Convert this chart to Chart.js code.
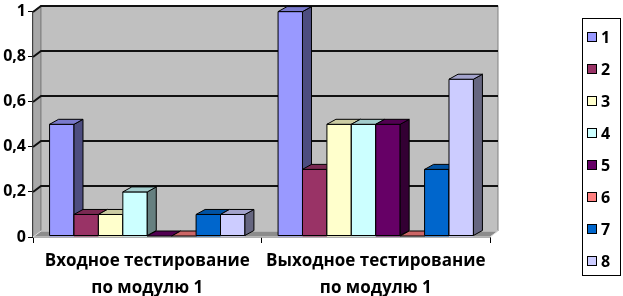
<!DOCTYPE html>
<html>
<head>
<meta charset="utf-8">
<script src="https://cdn.jsdelivr.net/npm/chart.js@4.4.0/dist/chart.umd.min.js"></script>
<style>
  html, body { margin: 0; padding: 0; background: #fff; }
  #wrap { width: 623px; height: 296px; position: relative; }
</style>
</head>
<body>
<div id="wrap"><canvas id="chart"></canvas></div>
<script>
// data
const categories = [
    ['Входное тестирование', 'по модулю 1'],
    ['Выходное тестирование', 'по модулю 1']
];
const seriesNames = ['1', '2', '3', '4', '5', '6', '7', '8'];
const series1 = [0.5, 1.0];
const series2 = [0.1, 0.3];
const series3 = [0.1, 0.5];
const series4 = [0.2, 0.5];
const series5 = [0.0, 0.5];
const series6 = [0.0, 0.0];
const series7 = [0.1, 0.3];
const series8 = [0.1, 0.7];
const yTicks = [0, 0.2, 0.4, 0.6, 0.8, 1];

const allSeries = [series1, series2, series3, series4, series5, series6, series7, series8];
const seriesColors = ['#9999FF', '#993366', '#FFFFCC', '#CCFFFF', '#660066', '#FF8080', '#0066CC', '#CCCCFF'];

const FONT = "'Open Sans', 'DejaVu Sans', sans-serif";

function shade(hex, k) {
    const n = parseInt(hex.slice(1), 16);
    const r = Math.round(((n >> 16) & 255) * k);
    const g = Math.round(((n >> 8) & 255) * k);
    const b = Math.round((n & 255) * k);
    return 'rgb(' + r + ',' + g + ',' + b + ')';
}

function poly(ctx, pts, fill, stroke, lw) {
    ctx.beginPath();
    ctx.moveTo(pts[0][0], pts[0][1]);
    for (let i = 1; i < pts.length; i++) ctx.lineTo(pts[i][0], pts[i][1]);
    ctx.closePath();
    if (fill) { ctx.fillStyle = fill; ctx.fill(); }
    if (stroke) { ctx.strokeStyle = stroke; ctx.lineWidth = lw || 1; ctx.stroke(); }
}

// walls, floor and back gridlines
const WALL_DX = 8, WALL_DY = -6;
const BAR_DX = 9, BAR_DY = -5;

const threeD = {
    id: 'threeD',
    beforeDatasetsDraw(chart) {
        const ctx = chart.ctx;
        const a = chart.chartArea;
        const y = chart.scales.y;
        ctx.save();
        // left side wall
        poly(ctx, [[a.left, a.bottom], [a.left, a.top], [a.left + WALL_DX, a.top + WALL_DY], [a.left + WALL_DX, a.bottom + WALL_DY]], '#a8a8a8', '#808080', 1);
        // back wall
        poly(ctx, [[a.left + WALL_DX, a.top + WALL_DY], [a.right + WALL_DX, a.top + WALL_DY], [a.right + WALL_DX, a.bottom + WALL_DY], [a.left + WALL_DX, a.bottom + WALL_DY]], '#c0c0c0', '#808080', 1);
        // floor
        poly(ctx, [[a.left, a.bottom], [a.right, a.bottom], [a.right + WALL_DX, a.bottom + WALL_DY], [a.left + WALL_DX, a.bottom + WALL_DY]], '#8c8c8c', '#e0e0e0', 1);
        // gridlines on the back wall
        ctx.strokeStyle = '#111';
        ctx.lineWidth = 2;
        yTicks.forEach(v => {
            if (v === 0) return;
            const py = Math.round(y.getPixelForValue(v) + WALL_DY);
            ctx.beginPath();
            ctx.moveTo(a.left, py - WALL_DY);
            ctx.lineTo(a.left + WALL_DX, py);
            ctx.lineTo(a.right + WALL_DX, py);
            ctx.stroke();
        });
        ctx.restore();
    },
    afterDatasetsDraw(chart) {
        const ctx = chart.ctx;
        ctx.save();
        ctx.lineJoin = 'round';
        for (let c = 0; c < categories.length; c++) {
            for (let d = 0; d < chart.data.datasets.length; d++) {
                const bar = chart.getDatasetMeta(d).data[c];
                const col = seriesColors[d];
                const x0 = bar.x - bar.width / 2, x1 = bar.x + bar.width / 2;
                const base = bar.base - 1;
                const top = Math.min(bar.y, base);
                if (base - top > 0.5) {
                    poly(ctx, [[x0, base], [x0, top], [x1, top], [x1, base]], col, '#000', 1);
                    poly(ctx, [[x1, base], [x1, top], [x1 + BAR_DX, top + BAR_DY], [x1 + BAR_DX, base + BAR_DY]], shade(col, 0.5), '#000', 1);
                }
                poly(ctx, [[x0, top], [x1, top], [x1 + BAR_DX, top + BAR_DY], [x0 + BAR_DX, top + BAR_DY]], shade(col, 0.8), '#000', 1);
            }
        }
        ctx.restore();
    },
    afterDraw(chart) {
        // legend box on the right
        const ctx = chart.ctx;
        ctx.save();
        ctx.strokeStyle = '#000';
        ctx.lineWidth = 1;
        ctx.strokeRect(582.5, 18.5, 38, 257);
        ctx.font = 'bold 16px ' + FONT;
        ctx.textBaseline = 'middle';
        ctx.textAlign = 'left';
        seriesNames.forEach((name, i) => {
            const cy = 37 + 32 * i;
            ctx.fillStyle = seriesColors[i];
            ctx.fillRect(587.5, cy - 4.5, 9, 9);
            ctx.strokeRect(587.5, cy - 4.5, 9, 9);
            ctx.fillStyle = '#000';
            ctx.fillText(name, 601, cy + 1);
        });
        ctx.restore();
    }
};

const datasets = allSeries.map((vals, i) => ({
    label: seriesNames[i],
    data: vals,
    backgroundColor: seriesColors[i],
    borderWidth: 0
}));

new Chart(document.getElementById('chart'), {
    type: 'bar',
    data: { labels: categories, datasets: datasets },
    plugins: [threeD],
    options: {
        responsive: true,
        maintainAspectRatio: false,
        animation: false,
        layout: { padding: { top: 7, right: 133, left: 0, bottom: 0 } },
        datasets: { bar: { categoryPercentage: 0.855, barPercentage: 1 } },
        plugins: {
            legend: { display: false },
            tooltip: { enabled: false }
        },
        scales: {
            x: {
                afterFit(scale) { scale.height = 59; },
                grid: { drawOnChartArea: false, drawTicks: true, tickLength: 6, color: '#000', offset: true },
                border: { color: '#000', width: 1.5 },
                ticks: {
                    color: '#000',
                    padding: 4,
                    maxRotation: 0,
                    autoSkip: false,
                    font: { family: FONT, size: 17, weight: 'bold', lineHeight: 1.62 }
                }
            },
            y: {
                min: 0,
                max: 1,
                afterFit(scale) { scale.width = 33; },
                afterBuildTicks(scale) { scale.ticks = yTicks.map(v => ({ value: v })); },
                grid: { drawOnChartArea: false, drawTicks: true, tickLength: 5, color: '#000' },
                border: { color: '#000', width: 1.5 },
                ticks: {
                    color: '#000',
                    padding: 2,
                    font: { family: FONT, size: 16, weight: 'bold' },
                    callback: v => String(v).replace('.', ',')
                }
            }
        }
    }
});
</script>
</body>
</html>
